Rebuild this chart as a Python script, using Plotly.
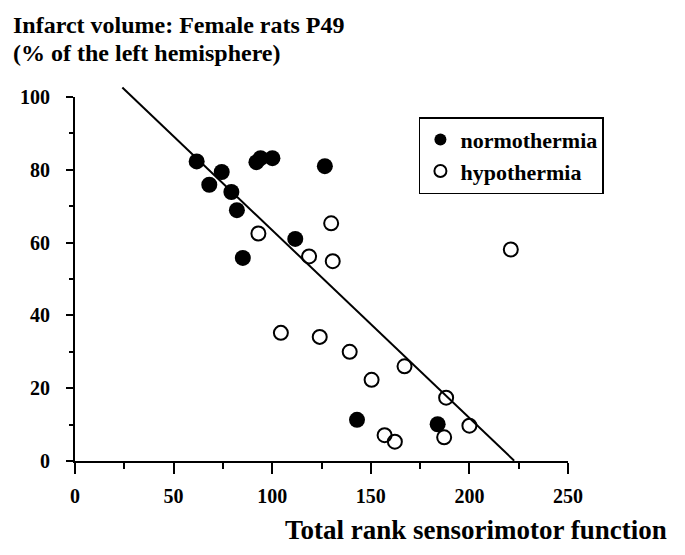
import plotly.graph_objects as go

# Normothermia (filled)
normo_x = [61.7, 74.4, 68.1, 79.3, 82.1, 92.0, 94.1, 100.1, 126.7, 85.1, 111.7, 143.0, 183.9]
normo_y = [82.3, 79.4, 75.9, 73.9, 68.9, 82.1, 83.2, 83.2, 81.0, 55.8, 61.0, 11.3, 10.1]
# Hypothermia (open)
hypo_x = [93.0, 129.9, 118.7, 130.7, 104.4, 124.1, 139.3, 150.4, 167.1, 188.2, 200.0, 157.0, 162.2, 187.2, 221.0]
hypo_y = [62.5, 65.3, 56.2, 54.9, 35.2, 34.1, 30.0, 22.3, 26.0, 17.4, 9.7, 7.1, 5.3, 6.5, 58.1]
# Regression line
reg_intercept = 115.0
reg_slope = -0.516
reg_x = [24.0, 222.7]
reg_y = [reg_intercept + reg_slope * v for v in reg_x]

x_ticks = [0, 50, 100, 150, 200, 250]
y_ticks = [0, 20, 40, 60, 80, 100]

FONT = "Liberation Serif, Times New Roman, serif"

Y_MAX = 100
DOMAIN_TOP = 364 / 375  # main axes stop at 100, the line subplot extends slightly above

fig = go.Figure()
fig.add_trace(go.Scatter(x=reg_x, y=reg_y, mode="lines", line=dict(color="black", width=2),
                         showlegend=False, hoverinfo="skip", xaxis="x2", yaxis="y2"))
fig.add_trace(go.Scatter(x=normo_x, y=normo_y, mode="markers", name="normothermia",
                         marker=dict(symbol="circle", size=16, color="black")))
fig.add_trace(go.Scatter(x=hypo_x, y=hypo_y, mode="markers", name="hypothermia",
                         marker=dict(symbol="circle-open", size=14, color="black", line=dict(width=2))))

tickfont = dict(family=FONT, size=20, color="black", weight="bold")
axis_common = dict(showline=True, linecolor="black", linewidth=2, showgrid=False, zeroline=False,
                   ticks="outside", tickcolor="black", tickwidth=2, tickfont=tickfont)

fig.update_layout(
    width=685, height=555,
    paper_bgcolor="white", plot_bgcolor="rgba(0,0,0,0)",
    margin=dict(l=64, r=125, t=78, b=102),
    xaxis=dict(range=[0, 250], tickvals=x_ticks, ticklen=11, domain=[0, 1],
               minor=dict(dtick=25, tick0=0, ticklen=6, ticks="outside", tickcolor="black", tickwidth=2),
               ticklabelstandoff=5, **axis_common),
    yaxis=dict(range=[0, Y_MAX], tickvals=y_ticks, ticklen=7, domain=[0, DOMAIN_TOP],
               minor=dict(dtick=10, tick0=0, ticklen=4, ticks="outside", tickcolor="black", tickwidth=2),
               ticklabelstandoff=12, **axis_common),
    xaxis2=dict(range=[0, 250], domain=[0, 1], visible=False, anchor="y2"),
    yaxis2=dict(range=[0, Y_MAX / DOMAIN_TOP], domain=[0, 1], visible=False, anchor="x2"),
    legend=dict(x=0.6976, y=0.917, xanchor="left", yanchor="top",
                bordercolor="black", borderwidth=1.5, bgcolor="white",
                font=dict(family=FONT, size=22, color="black", weight="bold"),
                itemsizing="constant"),
    showlegend=True,
    annotations=[
        dict(text="Infarct volume: Female rats P49", xref="paper", yref="paper",
             x=-0.129, y=1.164, xanchor="left", yanchor="middle", showarrow=False,
             font=dict(family=FONT, size=24, color="black", weight="bold")),
        dict(text="(% of the left hemisphere)", xref="paper", yref="paper",
             x=-0.129, y=1.088, xanchor="left", yanchor="middle", showarrow=False,
             font=dict(family=FONT, size=24, color="black", weight="bold")),
        dict(text="Total rank sensorimotor function", xref="paper", yref="paper",
             x=1.2056, y=-0.184, xanchor="right", yanchor="middle", showarrow=False,
             font=dict(family=FONT, size=27, color="black", weight="bold")),
    ],
)

fig.write_html("out.html")
